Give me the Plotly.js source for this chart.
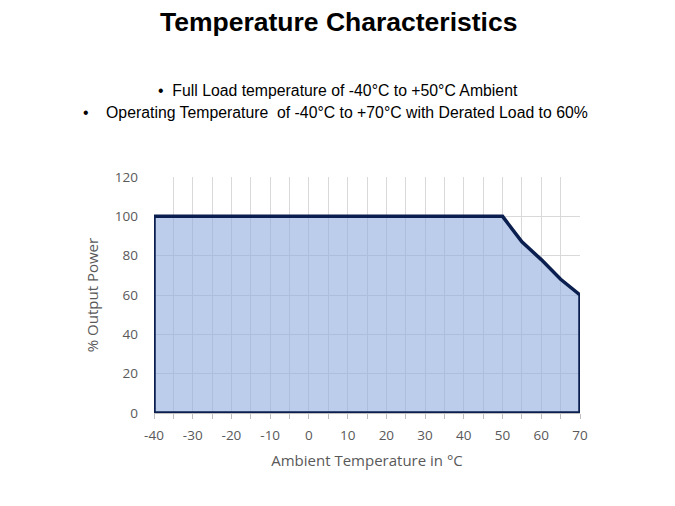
<!DOCTYPE html>
<html>
<head>
<meta charset="utf-8">
<script src="https://cdn.plot.ly/plotly-3.0.1.min.js"></script>
<style>
  body { margin: 0; background: #fff; }
  #grafico { width: 675px; height: 506px; }
</style>
</head>
<body>
<div id="grafico"></div>
<script>
// curva de derating (contorno fechado)
let temperaturas = [-40, -40, 50, 55, 60, 65, 70, 70, -40];
let potencia = [0, 100, 100, 87, 78, 68, 60, 0, 0];

let xTicks = [-40, -30, -20, -10, 0, 10, 20, 30, 40, 50, 60, 70];
let xTickText = ['-40', '-30', '-20', '-10', '0', '10', '20', '30', '40', '50', '60', '70'];
let yTicks = [0, 20, 40, 60, 80, 100, 120];

let tituloPrincipal = 'Temperature Characteristics';
let bullets = [
    '•  Full Load temperature of -40°C to +50°C Ambient',
    '•    Operating Temperature  of -40°C to +70°C with Derated Load to 60%'
];

let trace = {
    x: temperaturas,
    y: potencia,
    mode: 'lines',
    fill: 'toself',
    fillcolor: 'rgba(143,172,222,0.6)',
    line: { color: '#0a1f4f', width: 3.5 },
    hoverinfo: 'skip'
};

let eixoFonte = { family: 'Open Sans, Noto Sans, sans-serif', size: 13.5, color: '#595959' };
let textoX = 338 - 154; // centro do texto no slide

let layout = {
    width: 675,
    height: 506,
    margin: { l: 154, r: 95, t: 177, b: 93 },
    paper_bgcolor: '#fff',
    plot_bgcolor: '#fff',
    showlegend: false,
    xaxis: {
        range: [-40, 70],
        tickvals: xTicks,
        ticktext: xTickText,
        tickfont: eixoFonte,
        showgrid: true,
        gridcolor: '#d9d9d9',
        zeroline: false,
        showline: true,
        linecolor: '#bfbfbf',
        ticks: 'outside',
        ticklen: 5,
        tickcolor: '#bfbfbf',
        ticklabelstandoff: 5,
        minor: { dtick: 5, showgrid: true, gridcolor: '#d9d9d9', ticks: 'outside', ticklen: 5, tickcolor: '#bfbfbf' },
        title: { text: 'Ambient Temperature in °C', font: { family: 'Open Sans, Noto Sans, sans-serif', size: 15, color: '#595959' }, standoff: 12 }
    },
    yaxis: {
        range: [0, 120],
        tickvals: yTicks,
        tickfont: eixoFonte,
        showgrid: true,
        gridcolor: '#d9d9d9',
        zeroline: false,
        showline: false,
        ticks: '',
        ticklabelstandoff: 15,
        title: { text: '% Output Power', font: { family: 'Open Sans, Noto Sans, sans-serif', size: 15, color: '#595959' }, standoff: 12 }
    },
    annotations: [
        {
            text: '<b>' + tituloPrincipal + '</b>',
            xref: 'paper', yref: 'paper', x: textoX / 426, y: 1, xanchor: 'center', yanchor: 'middle',
            yshift: 177 - 22,
            showarrow: false,
            font: { family: 'Liberation Sans, Arial, sans-serif', size: 26.5, color: '#000' }
        },
        {
            text: bullets[0],
            xref: 'paper', yref: 'paper', x: textoX / 426, y: 1, xanchor: 'center', yanchor: 'middle',
            yshift: 177 - 90,
            showarrow: false,
            font: { family: 'Liberation Sans, Arial, sans-serif', size: 15.8, color: '#000' }
        },
        {
            text: bullets[1],
            xref: 'paper', yref: 'paper', x: (335 - 154) / 426, y: 1, xanchor: 'center', yanchor: 'middle',
            yshift: 177 - 112,
            showarrow: false,
            font: { family: 'Liberation Sans, Arial, sans-serif', size: 15.8, color: '#000' }
        }
    ]
};

Plotly.newPlot('grafico', [trace], layout, { displayModeBar: false, staticPlot: true });
</script>
</body>
</html>
